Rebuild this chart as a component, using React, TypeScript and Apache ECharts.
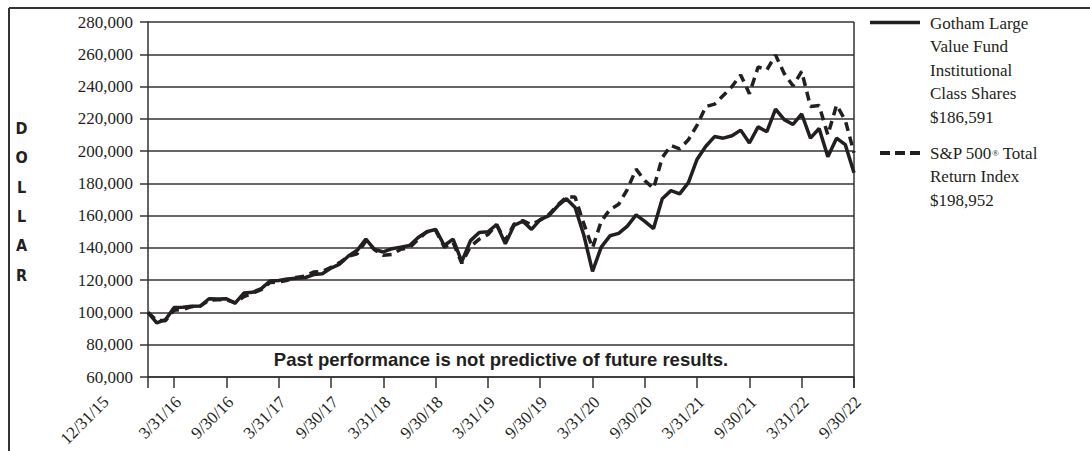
import React, { useEffect, useRef } from "react";
import * as echarts from "echarts";

// Month-end category labels, 12/31/15 .. 9/30/22
const CATEGORIES: string[] = (() => {
  const out = ["12/31/15"];
  for (let y = 2016; y <= 2022; y++) {
    for (let m = 1; m <= 12; m++) {
      if (y === 2022 && m > 9) break;
      const d = new Date(y, m, 0).getDate();
      out.push(`${m}/${d}/${String(y).slice(2)}`);
    }
  }
  return out;
})();

const TICK_LABELS = [
  "12/31/15", "3/31/16", "9/30/16", "3/31/17", "9/30/17", "3/31/18", "9/30/18",
  "3/31/19", "9/30/19", "3/31/20", "9/30/20", "3/31/21", "9/30/21", "3/31/22", "9/30/22",
];

const Y_TICKS = { min: 60000, max: 280000, step: 20000 };

const GOTHAM = [
  100000, 93500, 95500, 103000, 103200, 103800, 104000, 108500, 108300, 108500,
  105800, 112000, 112500, 114800, 119500, 119800, 120800, 121200, 121500, 123500,
  124000, 127500, 130000, 135000, 138500, 145500, 139000, 137500, 139500, 140500,
  141500, 146500, 150000, 151500, 141500, 145500, 131500, 144500, 149500, 150000,
  154500, 142500, 154000, 156500, 151500, 157500, 160000, 166000, 170500, 165000,
  148000, 125500, 140500, 147500, 149000, 153500, 160500, 156500, 152000, 170500,
  175500, 173500, 180500, 195000, 203000, 209000, 208000, 209500, 213000, 205000,
  215000, 212000, 226000, 219500, 216500, 223000, 208000, 214000, 196500, 208000,
  204000, 186591,
];

const SP500 = [
  100000, 95000, 94900, 101400, 101800, 103600, 103900, 107700, 107800, 107900,
  105900, 109800, 112000, 114100, 118600, 118800, 120000, 121700, 122500, 125000,
  125400, 127900, 130900, 134900, 136400, 144300, 138900, 135400, 135900, 139200,
  140100, 145300, 150000, 150900, 140500, 143400, 130500, 140900, 145400, 148300,
  154300, 144500, 154700, 156900, 154400, 157300, 160700, 166500, 171600, 171500,
  155000, 140000, 156500, 163800, 167000, 176300, 188800, 181700, 176800, 196000,
  203400, 201400, 207000, 216100, 227600, 229100, 234400, 240000, 247200, 235600,
  252100, 250300, 259500, 248000, 240500, 249400, 227700, 228200, 210000, 228500,
  219100, 198952,
];

const GOTHAM_NAME = "Gotham Large Value Fund Institutional Class Shares";
const SP_NAME = "S&P 500® Total Return Index";

const INK = "#231f20";
const GRID = "#333333";
const SERIF = '"Liberation Serif", "Times New Roman", serif';

export default function App() {
  const ref = useRef<HTMLDivElement>(null);

  useEffect(() => {
    if (!ref.current) return;
    const chart = echarts.init(ref.current, undefined, { renderer: "svg" });
    const tickIdx = new Set(TICK_LABELS.map((t) => CATEGORIES.indexOf(t)));

    chart.setOption({
      animation: false,
      grid: { left: 148, right: 236, top: 22, bottom: 74, containLabel: false },
      xAxis: {
        type: "category",
        data: CATEGORIES,
        boundaryGap: false,
        axisLine: { show: true, lineStyle: { color: GRID, width: 1.5 } },
        axisTick: {
          show: true,
          interval: (i: number) => tickIdx.has(i),
          length: 11,
          lineStyle: { color: GRID, width: 1.5 },
        },
        axisLabel: {
          interval: (i: number) => tickIdx.has(i) && i !== 0,
          rotate: 45,
          margin: 18,
          fontSize: 17,
          lineHeight: 12,
          verticalAlign: "top",
          fontFamily: SERIF,
          color: INK,
        },
        splitLine: { show: false },
      },
      yAxis: {
        type: "value",
        min: Y_TICKS.min,
        max: Y_TICKS.max,
        interval: Y_TICKS.step,
        axisLine: { show: true, lineStyle: { color: GRID, width: 1.5 } },
        axisTick: { show: true, length: 8, lineStyle: { color: GRID, width: 1.5 } },
        axisLabel: {
          margin: 15,
          fontSize: 17,
          fontFamily: SERIF,
          color: INK,
          formatter: (v: number) => v.toLocaleString("en-US"),
        },
        splitLine: { show: true, lineStyle: { color: GRID, width: 1.5 } },
      },
      series: [
        {
          name: SP_NAME,
          type: "line",
          data: SP500,
          symbol: "none",
          z: 2,
          lineStyle: { color: INK, width: 3.5, type: [9, 6] },
        },
        {
          name: GOTHAM_NAME,
          type: "line",
          data: GOTHAM,
          symbol: "none",
          z: 3,
          lineStyle: { color: INK, width: 3.5 },
        },
      ],
      graphic: [
        { type: "line", shape: { x1: 9, y1: 8, x2: 1090, y2: 8 }, style: { stroke: GRID, lineWidth: 2 } },
        { type: "line", shape: { x1: 9, y1: 8, x2: 9, y2: 451 }, style: { stroke: GRID, lineWidth: 2 } },
        { type: "line", shape: { x1: 854, y1: 22, x2: 854, y2: 388 }, style: { stroke: GRID, lineWidth: 1.5 } },
        {
          type: "text",
          x: 21.5,
          y: 113.5,
          style: {
            text: "D\nO\nL\nL\nA\nR",
            lineHeight: 29.4,
            font: 'bold 16px "Liberation Sans Narrow", "DejaVu Sans Condensed", sans-serif',
            fill: INK,
            align: "center",
            verticalAlign: "top",
          },
        },
        {
          type: "text",
          x: 106,
          y: 399,
          rotation: Math.PI / 4,
          style: {
            text: "12/31/15",
            font: `17px ${SERIF}`,
            fill: INK,
            align: "right",
            verticalAlign: "middle",
          },
        },
        {
          type: "text",
          x: 501,
          y: 359,
          style: {
            text: "Past performance is not predictive of future results.",
            font: 'bold 18.5px "Liberation Sans", Arial, sans-serif',
            fill: INK,
            align: "center",
            verticalAlign: "middle",
          },
        },
        { type: "line", shape: { x1: 870, y1: 22.5, x2: 920, y2: 22.5 }, style: { stroke: INK, lineWidth: 3.5 } },
        {
          type: "text",
          x: 930,
          y: 11.25,
          style: {
            text: "Gotham Large\nValue Fund\nInstitutional\nClass Shares\n$186,591",
            font: `17px ${SERIF}`,
            lineHeight: 23.5,
            fill: INK,
            align: "left",
            verticalAlign: "top",
          },
        },
        {
          type: "line",
          shape: { x1: 880, y1: 153, x2: 920, y2: 153 },
          style: { stroke: INK, lineWidth: 4, lineDash: [10, 5] },
        },
        {
          type: "text",
          x: 930,
          y: 141.25,
          style: {
            text: "S&P 500{r|®} Total\nReturn Index\n$198,952",
            font: `17px ${SERIF}`,
            fontSize: 17,
            fontFamily: SERIF,
            lineHeight: 23.5,
            fill: INK,
            align: "left",
            verticalAlign: "top",
            rich: {
              r: { fontSize: 9, fontFamily: SERIF, fill: INK, lineHeight: 23.5, verticalAlign: "middle" },
            },
          },
        },
      ],
    });

    return () => chart.dispose();
  }, []);

  return (
    <div
      ref={ref}
      style={{ position: "absolute", left: 0, top: 0, width: 1090, height: 451, background: "#fff" }}
    />
  );
}
